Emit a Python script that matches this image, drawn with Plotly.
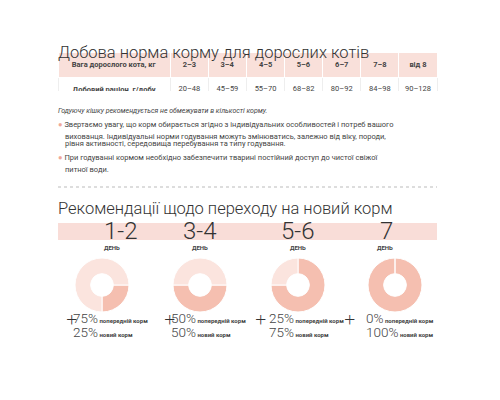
import plotly.graph_objects as go

weights = ["2–3", "3–4", "4–5", "5–6", "6–7", "7–8", "від 8"]
rations = ["20–48", "45–59", "55–70", "68–82", "80–92", "84–98", "90–128"]
days = ["1-2", "3-4", "5-6", "7"]
old_pct = [75, 50, 25, 0]
new_pct = [25, 50, 75, 100]
rotations = [90, 90, 0, 0]

W, H = 500, 400
OFF = 8
def py(p): return 1 - (p - OFF) / H
def px(p): return (p - OFF) / W

fig = go.Figure()
fig.add_trace(go.Table(
    domain=dict(x=[px(58), px(437)], y=[py(91), py(52)]),
    columnwidth=[112] + [38] * 7,
    header=dict(values=["<b>Вага дорослого кота, кг</b>"] + [f"<b>{w}</b>" for w in weights],
                fill_color="#f9e0da", line_color="white", height=19,
                font=dict(family="Roboto", size=7.5, color="#444")),
    cells=dict(values=[["<b>Добовий раціон, г/добу</b>"]] + [[r] for r in rations],
               fill_color="white", line_color="#eee", height=19,
               font=dict(family="Roboto", size=7.5, color="#444")),
))

light, dark = "#fbe4de", "#f5bfb0"
cx = [102, 200, 298, 395]
plus_x = [64, 162, 260, 357]
ann = []
for i, d in enumerate(days):
    fig.add_trace(go.Pie(values=[new_pct[i], old_pct[i]], sort=False, direction="clockwise",
                         rotation=rotations[i], hole=0.42, textinfo="none", hoverinfo="none",
                         marker=dict(colors=[dark, light], line=dict(color="white", width=1)),
                         domain=dict(x=[px(cx[i] - 27), px(cx[i] + 27)], y=[py(312), py(258)]),
                         showlegend=False))
    ann.append(dict(x=px(cx[i]), y=py(231), text=d,
                    font=dict(size=24, color="#333", family="Roboto", weight=300)))
    ann.append(dict(x=px(cx[i]), y=py(247), text="<b>ДЕНЬ</b>", font=dict(size=6, color="#444", family="Roboto")))
    ann.append(dict(x=px(plus_x[i]), y=py(335), text="+", font=dict(size=20, color="#333", weight=300)))
    ann.append(dict(x=px(plus_x[i] + 8), y=py(327), xanchor="left", borderpad=0,
                    text=f"{old_pct[i]}%<span style='font-size:6px'><b> попередній корм</b></span>",
                    font=dict(size=13.5, color="#444", family="Roboto", weight=300)))
    ann.append(dict(x=px(plus_x[i] + 8), y=py(341), xanchor="left", borderpad=0,
                    text=f"{new_pct[i]}%<span style='font-size:6px'><b> новий корм</b></span>",
                    font=dict(size=13.5, color="#444", family="Roboto", weight=300)))

def txt(x, y, t, size, **kw):
    ann.append(dict(x=px(x), y=py(y), text=t, xanchor="left", borderpad=0,
                    font=dict(size=size, color=kw.pop("color", "#444"), family="Roboto",
                              weight=kw.pop("weight", 400)), **kw))

txt(57, 42, "Добова норма корму для дорослих котів", 16.5, color="#333", weight=300)
txt(57, 106, "<i>Годуючу кішку рекомендується не обмежувати в кількості корму.</i>", 7)
bul = "<span style='color:#f0a898'>●</span> "
txt(57, 119, bul + "Звертаємо увагу, що корм обирається згідно з індивідуальних особливостей і потреб вашого", 7.5)
txt(64, 131, "вихованця. Індивідуальні норми годування можуть змінюватись, залежно від віку, породи,", 7.5)
txt(64, 143, "рівня активності, середовища перебування та типу годування.", 7.5)
txt(57, 157, bul + "При годуванні кормом необхідно забезпечити тварині постійний доступ до чистої свіжої", 7.5)
txt(64, 169, "питної води.", 7.5)
txt(57, 209, "Рекомендації щодо переходу на новий корм", 16.5, color="#333", weight=300)
for a in ann:
    a.setdefault("showarrow", False)
    a.setdefault("xref", "paper"); a.setdefault("yref", "paper")

shapes = [
    dict(type="line", xref="paper", yref="paper", x0=px(58), x1=px(437), y0=py(187), y1=py(187),
         line=dict(color="#bbb", width=1, dash="dot")),
    dict(type="rect", xref="paper", yref="paper", x0=px(58), x1=px(437), y0=py(240), y1=py(223),
         fillcolor="#f9ddd8", line=dict(width=0), layer="below"),
]
fig.update_layout(width=W, height=H, margin=dict(l=0, r=0, t=0, b=0), paper_bgcolor="white",
                  annotations=ann, shapes=shapes)
fig.write_html("out.html")
